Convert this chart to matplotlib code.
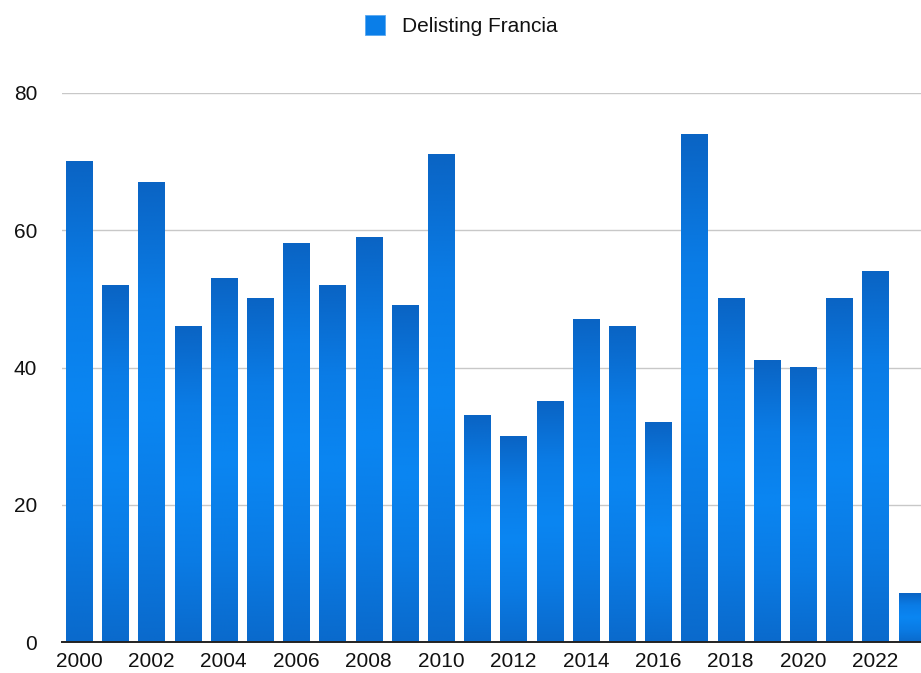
import numpy as np
import matplotlib
matplotlib.use("Agg")
import matplotlib.pyplot as plt
from matplotlib.colors import LinearSegmentedColormap
from matplotlib.patches import Rectangle

years = list(range(2000, 2024))
delistings = [70, 52, 67, 46, 53, 50, 58, 52, 59, 49, 71, 33,
              30, 35, 47, 46, 32, 74, 50, 41, 40, 50, 54, 7]
tick_years = list(range(2000, 2023, 2))
y_ticks = [0, 20, 40, 60, 80]
series_name = "Delisting Francia"

plt.rcParams['font.family'] = ['Liberation Sans', 'DejaVu Sans']

# top dark -> bright middle -> slightly dark bottom
bar_cmap = LinearSegmentedColormap.from_list(
    "bar", ["#0a64c4", "#0a7ce6", "#0a86f2", "#0a7be4", "#0a6acc"])

fig = plt.figure(figsize=(9.21, 6.73), dpi=100)
ax = fig.add_axes([62 / 921, 31 / 673, 1 - 62 / 921, 549 / 673])

width = 0.72
grad = np.linspace(0, 1, 256).reshape(-1, 1)
for i, v in enumerate(delistings):
    x0 = years[i] - 2000 - width / 2
    ax.imshow(grad, cmap=bar_cmap, aspect='auto', origin='upper',
              interpolation='bilinear',
              extent=[x0, x0 + width, 0, v], zorder=2)

ax.set_xlim(-0.47, 23.26)
ax.set_ylim(0, 80)
ax.set_yticks(y_ticks)
ax.set_yticklabels([str(t) for t in y_ticks])
ax.set_xticks([y - 2000 for y in tick_years])
ax.set_xticklabels([str(y) for y in tick_years])
ax.tick_params(axis='both', length=0, labelsize=15, colors="#111111")
ax.tick_params(axis='y', pad=18)
ax.tick_params(axis='x', pad=7)
ax.yaxis.grid(True, color="#c8c8c8", linewidth=1.0, zorder=0)
ax.set_axisbelow(True)
for side in ['top', 'right', 'left']:
    ax.spines[side].set_visible(False)
ax.spines['bottom'].set_color("#222222")
ax.spines['bottom'].set_linewidth(1.4)
ax.spines['bottom'].set_zorder(4)

# legend drawn by hand at the top centre
fig.patches.append(Rectangle((365 / 921, 1 - 35 / 673), 20 / 921, 20 / 673,
                             transform=fig.transFigure, facecolor="#0a7ee8",
                             edgecolor="#5aa8f0", linewidth=0.6))
fig.text(402 / 921, 1 - 26 / 673, series_name, fontsize=15,
         va='center', ha='left', color="#111111")

fig.savefig("out.png", dpi=100)
